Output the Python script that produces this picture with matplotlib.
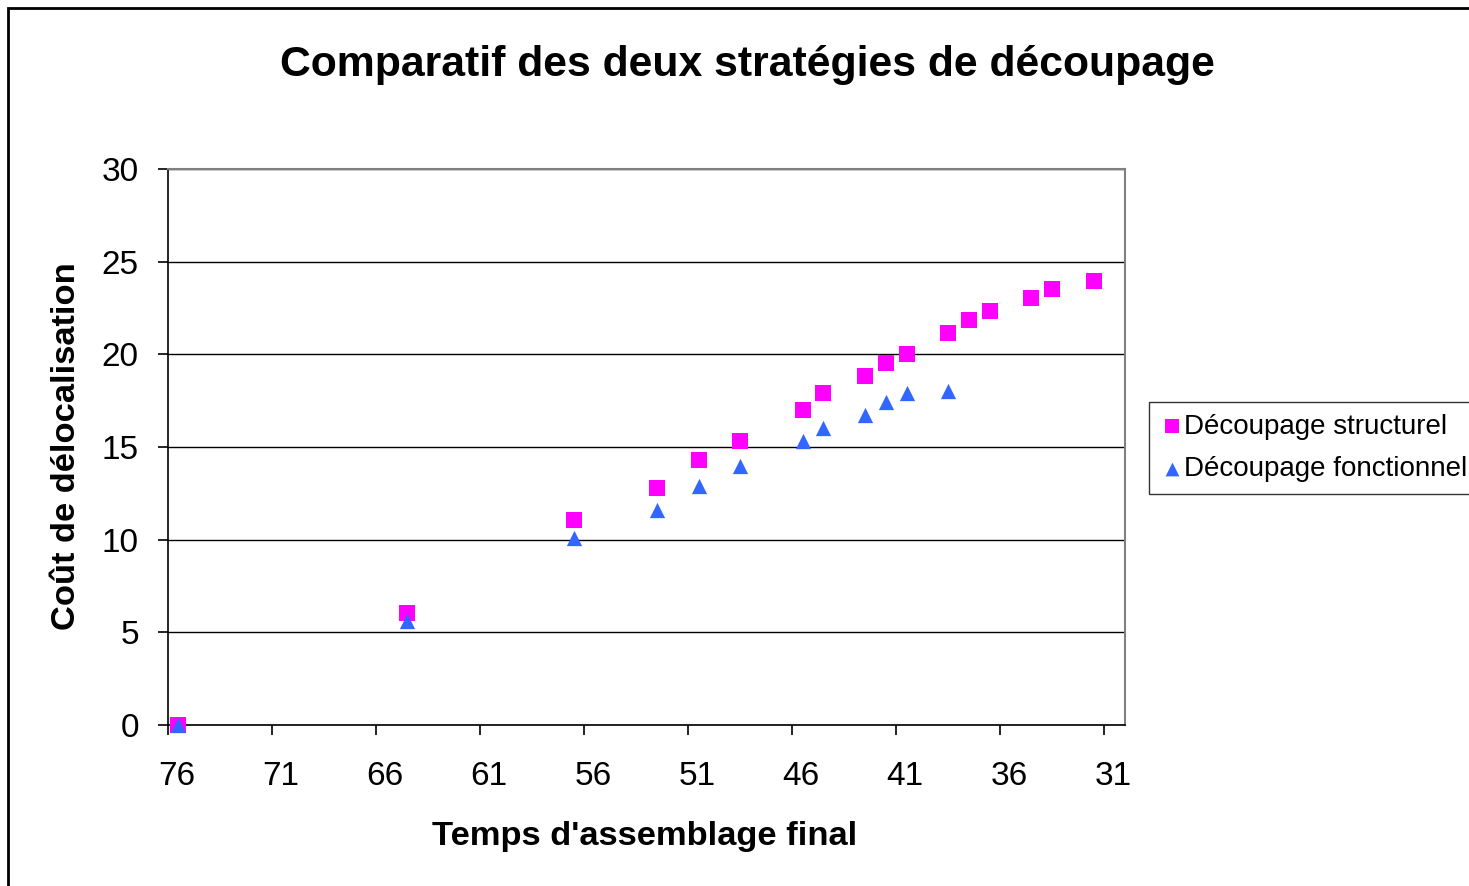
import matplotlib
matplotlib.use("Agg")
import matplotlib.pyplot as plt
from matplotlib.patches import Rectangle
from matplotlib.transforms import ScaledTranslation

plt.rcParams["font.family"] = ["Liberation Sans", "DejaVu Sans"]

# temps d'assemblage final (x) et coût de délocalisation (y)
temps_structurel = [75, 64, 56, 52, 50, 48, 45, 44, 42, 41, 40, 38, 37, 36, 34, 33, 31]
cout_structurel = [0, 6.05, 11.05, 12.8, 14.3, 15.35, 17.0, 17.9, 18.85, 19.55, 20.0,
                   21.15, 21.85, 22.35, 23.05, 23.5, 23.95]

temps_fonctionnel = [75, 64, 56, 52, 50, 48, 45, 44, 42, 41, 40, 38]
cout_fonctionnel = [0, 5.6, 10.1, 11.6, 12.9, 13.95, 15.35, 16.05, 16.75, 17.45, 17.9, 18.0]

x_ticks = [75.5, 70.5, 65.5, 60.5, 55.5, 50.5, 45.5, 40.5, 35.5, 30.5]
x_tick_labels = ["76", "71", "66", "61", "56", "51", "46", "41", "36", "31"]
y_ticks = [0, 5, 10, 15, 20, 25, 30]

fig = plt.figure(figsize=(14.69, 8.86), dpi=100)
ax = fig.add_axes([168 / 1469, 1 - 725 / 886, (1125 - 168) / 1469, (725 - 169) / 886])

ax.scatter(temps_structurel, cout_structurel, marker="s", s=11 ** 2, color="#FF00FF",
           linewidths=0, label="Découpage structurel", zorder=3, clip_on=False)
ax.scatter(temps_fonctionnel, cout_fonctionnel, marker="^", s=11 ** 2, color="#3366FF",
           linewidths=0, label="Découpage fonctionnel", zorder=4, clip_on=False)

ax.set_xlim(75.5, 29.5)
ax.set_ylim(0, 30)
ax.set_xticks(x_ticks)
ax.set_xticklabels(x_tick_labels)
ax.set_yticks(y_ticks)

ax.grid(axis="y", color="black", linewidth=1.0)
ax.set_axisbelow(True)

for side in ("top", "right"):
    ax.spines[side].set_color("#808080")
    ax.spines[side].set_linewidth(1.5)
for side in ("left", "bottom"):
    ax.spines[side].set_color("black")
    ax.spines[side].set_linewidth(1.2)

ax.tick_params(axis="both", direction="out", length=7, width=1.2, labelsize=24)
ax.tick_params(axis="x", pad=19)
ax.tick_params(axis="y", pad=14)
shift = ScaledTranslation(9 / 100, 0, fig.dpi_scale_trans)
for lbl in ax.get_xticklabels():
    lbl.set_transform(lbl.get_transform() + shift)

fig.text(747 / 1469, 1 - 65 / 886, "Comparatif des deux stratégies de découpage",
         fontsize=30.8, fontweight="bold", ha="center", va="center")

ax.set_xlabel("Temps d'assemblage final", fontsize=24.8, fontweight="bold")
ax.xaxis.set_label_coords((645 - 168) / 957, -0.1727)
ax.set_ylabel("Coût de délocalisation", fontsize=24.8, fontweight="bold")
ax.yaxis.set_label_coords((82 - 168) / 957, 0.502)

leg = ax.legend(loc="upper left", bbox_to_anchor=(1149 / 1469, 1 - 402 / 886),
                bbox_transform=fig.transFigure, fontsize=20, frameon=True,
                fancybox=False, edgecolor="black", borderpad=0.42,
                handletextpad=0.05, handlelength=0.8, labelspacing=0.6,
                borderaxespad=0, markerscale=0.9)
leg.get_frame().set_linewidth(1.0)

fig.add_artist(Rectangle((8 / 1469, -0.1), 1.2, 1.1 - 8 / 886, fill=False,
                         edgecolor="black", linewidth=2, transform=fig.transFigure))

fig.savefig("out.png", dpi=100)
